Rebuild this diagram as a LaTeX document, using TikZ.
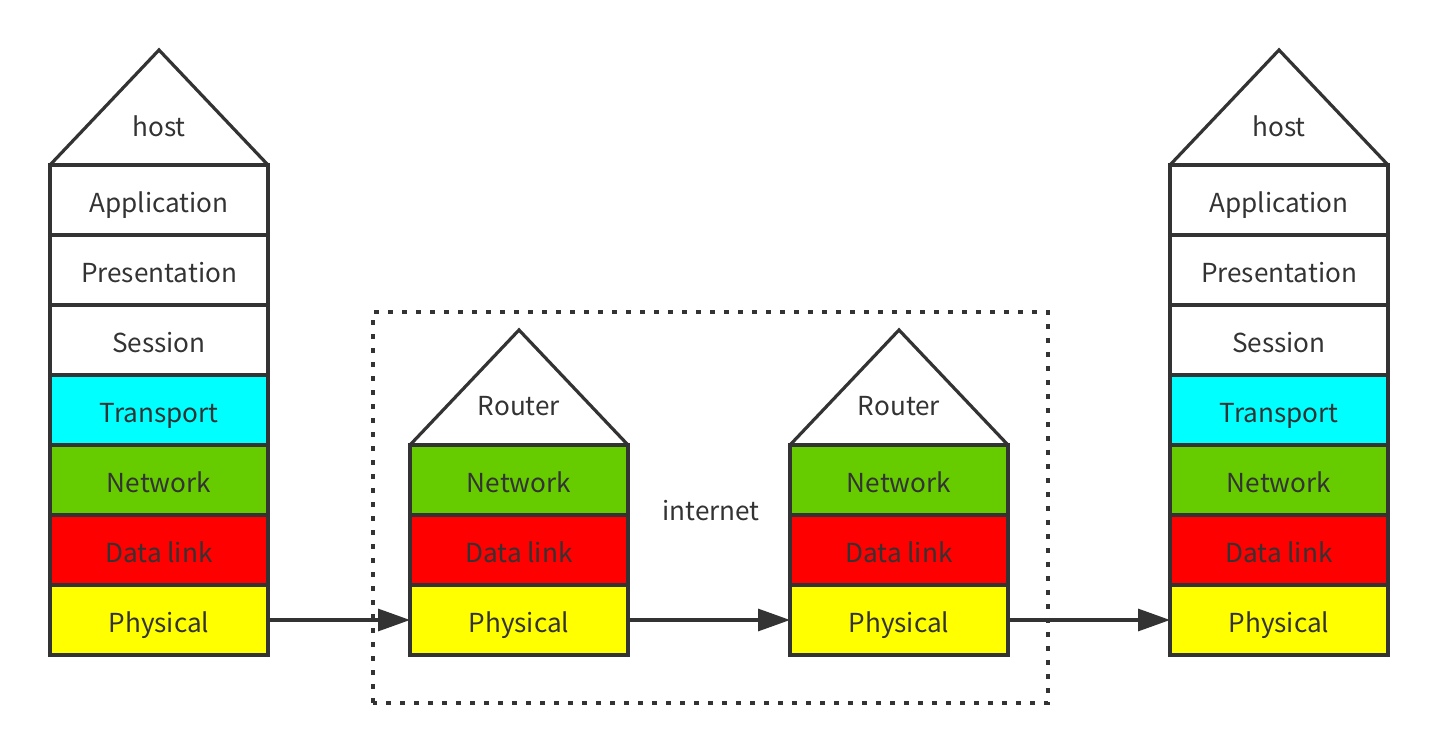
\documentclass[tikz,border=0pt]{standalone}
\usepackage{fontspec}
\setmainfont{Noto Sans CJK SC}
\usepackage{xcolor}
\usetikzlibrary{arrows.meta, positioning, calc}
\definecolor{ink}{HTML}{333333}
\definecolor{transp}{HTML}{00FFFF}
\definecolor{netw}{HTML}{66CC00}
\definecolor{dlink}{HTML}{FF0000}
\definecolor{phys}{HTML}{FFFF00}
\tikzstyle{layerbox} = [rectangle, draw=ink, line width=2.4pt, outer sep=0pt, minimum width=163.5pt, minimum height=52.5pt, text=ink, text height=19pt, text depth=0pt, font=\fontsize{19.6}{24}\selectfont]
\tikzstyle{roof} = [draw=ink, line width=2.4pt, line join=miter]
\tikzstyle{roofname} = [text=ink, font=\fontsize{19.6}{24}\selectfont]
\tikzstyle{wire} = [draw=ink, line width=2.4pt, -{Triangle[length=24pt,width=16.5pt]}]
\tikzstyle{cloud} = [draw=ink, line width=2.4pt, dash pattern=on 4pt off 6.5pt]
\begin{document}
\begin{tikzpicture}[x=0.75pt,y=0.75pt,node distance=0pt]
      \useasboundingbox (0,0) rectangle (1438,753);
      % left host
      \node (h1app) [layerbox] at (159,553) {Application};
      \node (h1pre) [layerbox, below=of h1app] {Presentation};
      \node (h1ses) [layerbox, below=of h1pre] {Session};
      \node (h1tra) [layerbox, fill=transp, below=of h1ses] {Transport};
      \node (h1net) [layerbox, fill=netw, below=of h1tra] {Network};
      \node (h1dat) [layerbox, fill=dlink, below=of h1net] {Data link};
      \node (h1phy) [layerbox, fill=phys, below=of h1dat] {Physical};
      \draw [roof] (h1app.north west) -- ($(h1app.north)+(0,115)$) -- (h1app.north east);
      \node (h1) [roofname] at ($(h1app.north)+(0,39)$) {host};

      % routers
      \node (r1net) [layerbox, fill=netw] at (519,273) {Network};
      \node (r1dat) [layerbox, fill=dlink, below=of r1net] {Data link};
      \node (r1phy) [layerbox, fill=phys, below=of r1dat] {Physical};
      \draw [roof] (r1net.north west) -- ($(r1net.north)+(0,115)$) -- (r1net.north east);
      \node (r1) [roofname] at ($(r1net.north)+(0,39)$) {Router};

      \node (r2net) [layerbox, fill=netw] at (899,273) {Network};
      \node (r2dat) [layerbox, fill=dlink, below=of r2net] {Data link};
      \node (r2phy) [layerbox, fill=phys, below=of r2dat] {Physical};
      \draw [roof] (r2net.north west) -- ($(r2net.north)+(0,115)$) -- (r2net.north east);
      \node (r2) [roofname] at ($(r2net.north)+(0,39)$) {Router};

      % right host
      \node (h2app) [layerbox] at (1279,553) {Application};
      \node (h2pre) [layerbox, below=of h2app] {Presentation};
      \node (h2ses) [layerbox, below=of h2pre] {Session};
      \node (h2tra) [layerbox, fill=transp, below=of h2ses] {Transport};
      \node (h2net) [layerbox, fill=netw, below=of h2tra] {Network};
      \node (h2dat) [layerbox, fill=dlink, below=of h2net] {Data link};
      \node (h2phy) [layerbox, fill=phys, below=of h2dat] {Physical};
      \draw [roof] (h2app.north west) -- ($(h2app.north)+(0,115)$) -- (h2app.north east);
      \node (h2) [roofname] at ($(h2app.north)+(0,39)$) {host};

      % internet
      \draw [cloud] (373,50) rectangle (1048,441);
      \node (net) [roofname] at (711,242) {internet};

      \draw [wire] (h1phy) -- (r1phy);
      \draw [wire] (r1phy) -- (r2phy);
      \draw [wire] (r2phy) -- (h2phy);
\end{tikzpicture}
\end{document}
